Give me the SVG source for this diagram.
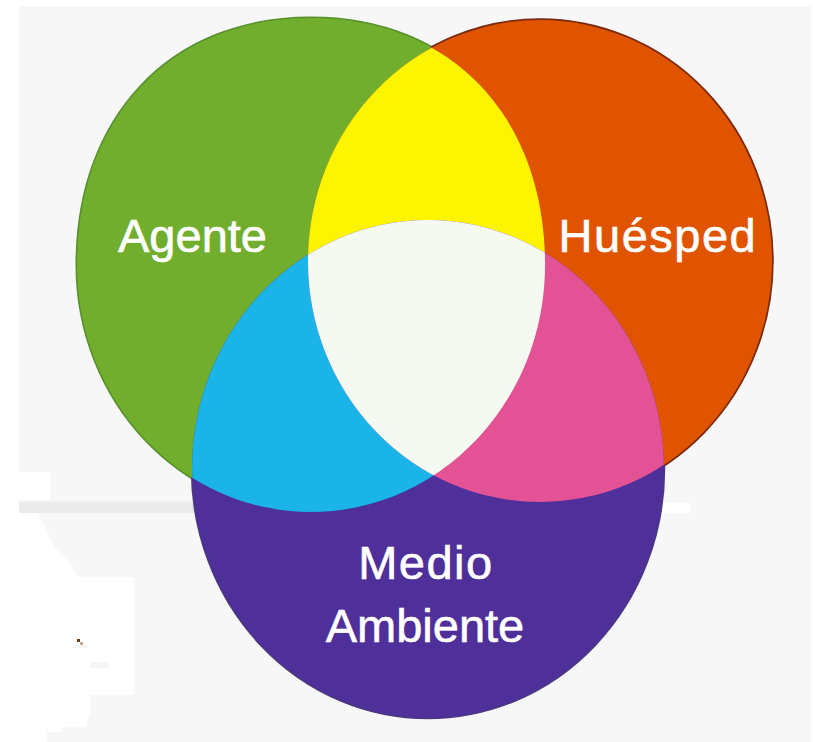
<svg xmlns="http://www.w3.org/2000/svg" xmlns:xlink="http://www.w3.org/1999/xlink" width="813" height="742" viewBox="0 0 813 742">
<style>
.lbl{font-family:"Liberation Sans",Arial,"DejaVu Sans",sans-serif;font-size:47px;fill:#ffffff;stroke:#ffffff;stroke-width:0.6}
</style>
<defs>
<path id="shG" d="M311,18 C451.4,18 545,116.8 545,265 C545,401.4 440.2,512 311,512 C181.8,512 77,401.4 77,265 C77,116.8 170.6,18 311,18 Z"/>
<ellipse id="shO" cx="540" cy="261" rx="232" ry="241"/>
<ellipse id="shP" cx="428" cy="469" rx="236" ry="249"/>
<clipPath id="cG"><use xlink:href="#shG"/></clipPath>
<clipPath id="cO"><use xlink:href="#shO"/></clipPath>
</defs>
<rect x="0" y="0" width="813" height="742" fill="#ffffff"/>
<rect x="19" y="6" width="792" height="736" fill="#f7f7f7"/>
<g id="background-marks">
<rect x="19" y="472" width="31" height="28" fill="#ffffff"/>
<rect x="19" y="502" width="200" height="11" fill="#eaeaea"/>
<rect x="19" y="501" width="200" height="2" fill="#f0f0f0"/>
<rect x="650" y="503" width="40" height="10" fill="#ffffff"/>
<polygon points="19,513 38,513 43,523 47,530 50,540 55,548 62,554 67,560 72,566 77,577 134,577 134,695 90,695 90,717 87,717 87,727 62,727 62,732 47,732 47,742 19,742" fill="#ffffff"/>
<rect x="75" y="645" width="12" height="3" fill="#f4f4f4"/>
<rect x="90" y="662" width="19" height="6" fill="#f5f5f5"/>
<rect x="77" y="639" width="3" height="3" fill="#6e3b12"/>
<rect x="80" y="642" width="3" height="3" fill="#c9a88a"/>
</g>
<g id="outlines" fill="none">
<use xlink:href="#shG" stroke="#55902a" stroke-width="3"/>
<use xlink:href="#shO" stroke="#7a2a0e" stroke-width="3.5"/>
<use xlink:href="#shP" stroke="#4a3a7c" stroke-width="2.5"/>
</g>
<g id="agente">
<use xlink:href="#shG" fill="#71ae2e"/>
<text class="lbl" x="118" y="252">Agente</text>
</g>
<g id="huesped">
<use xlink:href="#shO" fill="#e05400"/>
<text class="lbl" x="558.6" y="252" letter-spacing="1.5">Huésped</text>
</g>
<g id="medio-ambiente">
<use xlink:href="#shP" fill="#4f2f9a"/>
<text class="lbl" x="358.2" y="579" letter-spacing="1.5">Medio</text>
<text class="lbl" x="325.7" y="642">Ambiente</text>
</g>
<g id="overlaps">
<g clip-path="url(#cG)"><use xlink:href="#shO" fill="#fcf400"/></g>
<g clip-path="url(#cG)"><use xlink:href="#shP" fill="#1bb4e8"/></g>
<g clip-path="url(#cO)"><use xlink:href="#shP" fill="#e35294"/></g>
<g clip-path="url(#cG)"><g clip-path="url(#cO)"><use xlink:href="#shP" fill="#f4faf1"/></g></g>
</g>
</svg>
